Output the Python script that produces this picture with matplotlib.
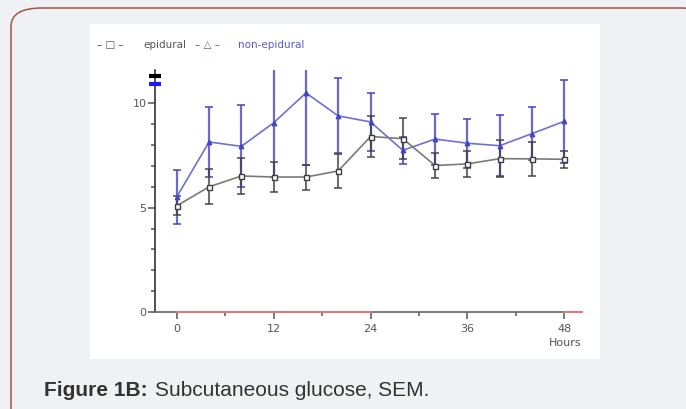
import matplotlib
matplotlib.use("Agg")
from matplotlib import pyplot as plt
from matplotlib.patches import FancyBboxPatch, Rectangle

hours = [0, 4, 8, 12, 16, 20, 24, 28, 32, 36, 40, 44, 48]
epidural = [5.09, 6.0, 6.52, 6.47, 6.47, 6.76, 8.41, 8.31, 7.02, 7.1, 7.35, 7.34, 7.32]
epidural_sem = [0.45, 0.84, 0.87, 0.7, 0.6, 0.8, 1.0, 1.0, 0.6, 0.63, 0.9, 0.8, 0.4]
non_epidural = [5.52, 8.15, 7.94, 9.07, 10.5, 9.4, 9.11, 7.75, 8.29, 8.09, 7.97, 8.55, 9.14]
non_epidural_sem = [1.3, 1.67, 1.96, 2.6, 3.43, 1.8, 1.38, 0.64, 1.22, 1.18, 1.47, 1.27, 2.0]
xticks = [0, 12, 24, 36, 48]
yticks = [0, 5, 10]

GRAY = "#7a7a7a"
DARK = "#3f3f3f"
BLUE_LINE = "#7070d4"
BLUE_BAR = "#4545c4"
LBL = "#555555"

fig = plt.figure(figsize=(6.86, 4.09), dpi=100)
fig.patch.set_facecolor("#f0f1f4")

# rounded frame and white panel behind the axes
frame = FancyBboxPatch((11 / 686, -20 / 409), 700 / 686, 421 / 409,
                       boxstyle="round,pad=0,rounding_size=0.045",
                       transform=fig.transFigure, facecolor="#f0f1f4",
                       edgecolor="#a0563f", linewidth=1.1, zorder=-2)
fig.patches.append(frame)
fig.patches.append(Rectangle((90 / 686, 1 - 359 / 409), 510 / 686, (359 - 24) / 409,
                             transform=fig.transFigure, facecolor="white",
                             edgecolor="none", zorder=-1))

ax = fig.add_axes([155 / 686, 1 - 312 / 409, 427 / 686, 242 / 409])
ax.set_facecolor("none")
ax.set_xlim(-2.7, 50.2)
ax.set_ylim(0, 11.6)

ax.errorbar(hours, non_epidural, yerr=non_epidural_sem, fmt="none",
            ecolor=BLUE_BAR, elinewidth=1.6, capsize=3, capthick=1.4, alpha=0.8, zorder=2)
ax.errorbar(hours, epidural, yerr=epidural_sem, fmt="none",
            ecolor=DARK, elinewidth=1.5, capsize=3, capthick=1.4, alpha=0.75, zorder=2)
ax.plot(hours, non_epidural, color=BLUE_LINE, lw=1.2, marker="^", ms=3.2,
        mfc=BLUE_BAR, mec=BLUE_BAR, zorder=3)
ax.plot(hours, epidural, color=GRAY, lw=1.2, marker="s", ms=3.6,
        mfc="white", mec=DARK, mew=1, zorder=4)

# small marks at the top of the y axis
ax.plot([-2.7], [11.3], marker="_", ms=8, mew=3, color="black", clip_on=False, zorder=5)
ax.plot([-2.7], [10.95], marker="_", ms=8, mew=3, color="#1a1aff", clip_on=False, zorder=5)

# red segments along the x axis
ax.plot([0, 24], [0, 0], color="#e07a7a", lw=1.5, clip_on=False, zorder=3)
ax.plot([48, 50.2], [0, 0], color="#e07a7a", lw=1.5, clip_on=False, zorder=3)

for s in ["top", "right"]:
    ax.spines[s].set_visible(False)
ax.spines["left"].set_color("#333333")
ax.spines["bottom"].set_color("#666666")
ax.spines["left"].set_linewidth(1.2)
ax.spines["bottom"].set_linewidth(1.2)

ax.set_xticks(xticks)
ax.set_xticks(range(0, 49, 6), minor=True)
ax.set_yticks(yticks)
ax.set_yticks(range(0, 12), minor=True)
ax.tick_params(axis="both", which="major", length=5, width=1.1, colors=LBL,
               labelsize=8, labelcolor=LBL)
ax.tick_params(axis="both", which="minor", length=3, width=1.1, colors=LBL)
ax.tick_params(axis="y", pad=1)

fig.text(582 / 686, 1 - 343 / 409, "Hours", ha="right", va="center", fontsize=8, color=LBL)

# legend drawn as text
fig.text(97 / 686, 1 - 45 / 409, "– □ –", ha="left", va="center", fontsize=7.5, color=LBL)
fig.text(143 / 686, 1 - 45 / 409, "epidural", ha="left", va="center", fontsize=7.5, color=LBL)
fig.text(195 / 686, 1 - 45 / 409, "– △ –", ha="left", va="center", fontsize=7.5,
         color="#5a5ad0")
fig.text(238 / 686, 1 - 45 / 409, "non-epidural", ha="left", va="center", fontsize=7.5,
         color="#5a5ad0")

# caption
fig.text(44 / 686, 1 - 390 / 409, "Figure 1B:", ha="left", va="center",
         fontsize=15, color="#333333", weight="bold", family="Liberation Sans")
fig.text(155 / 686, 1 - 390 / 409, "Subcutaneous glucose, SEM.", ha="left", va="center",
         fontsize=15, color="#333333", family="Liberation Sans")

fig.savefig("out.png", dpi=100, facecolor=fig.get_facecolor())
